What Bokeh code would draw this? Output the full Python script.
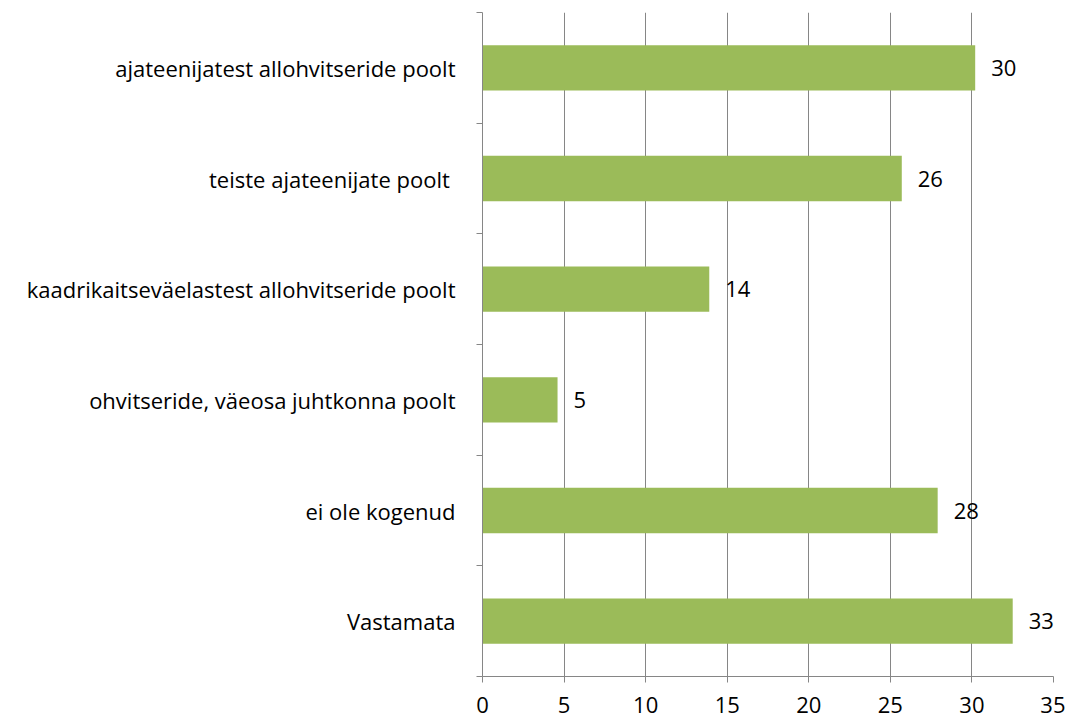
from bokeh.plotting import figure
from bokeh.models import ColumnDataSource, FixedTicker, Range1d
from bokeh.core.properties import value
from bokeh.embed import file_html
from bokeh.resources import INLINE

categories = ["Vastamata", "ei ole kogenud", "ohvitseride, väeosa juhtkonna poolt",
              "kaadrikaitseväelastest allohvitseride poolt", "teiste ajateenijate  poolt",
              "ajateenijatest allohvitseride poolt"]
values = [32.5, 27.9, 4.6, 13.9, 25.7, 30.2]
labels = ["33", "28", "5", "14", "26", "30"]
x_ticks = [0, 5, 10, 15, 20, 25, 30, 35]

FONT = "Open Sans"
GRID = "#868686"

pos = [i + 0.5 for i in range(len(categories))]
src = ColumnDataSource(dict(y=pos, v=values, lab=labels))

p = figure(width=1065, height=722, output_backend="svg", toolbar_location=None,
           x_range=Range1d(0, 35), y_range=Range1d(0, len(categories)),
           min_border_left=482, min_border_right=12, min_border_top=12, min_border_bottom=46)
p.outline_line_color = None
p.background_fill_color = "white"

p.hbar(y="y", right="v", left=0, height=0.41, source=src, fill_color="#9BBB59", line_color=None)
p.text(x="v", y="y", text="lab", source=src, x_offset=16, text_baseline="middle",
       text_align="left", text_font=value(FONT), text_font_size="22px", text_color="black")

p.xgrid.ticker = FixedTicker(ticks=x_ticks)
p.xgrid.grid_line_color = GRID
p.xgrid.grid_line_width = 1
p.ygrid.grid_line_color = None

xa = p.xaxis[0]
xa.ticker = FixedTicker(ticks=x_ticks, minor_ticks=[])
xa.axis_line_color = GRID
xa.major_tick_line_color = GRID
xa.major_tick_out = 6
xa.major_tick_in = 0
xa.minor_tick_line_color = None
xa.major_label_text_font = FONT
xa.major_label_text_font_size = "22px"
xa.major_label_text_color = "black"
xa.major_label_standoff = 14

ya = p.yaxis[0]
ya.ticker = FixedTicker(ticks=pos, minor_ticks=list(range(len(categories) + 1)))
ya.major_label_overrides = {pos[i]: categories[i] for i in range(len(categories))}
ya.axis_line_color = GRID
ya.major_tick_line_color = None
ya.minor_tick_line_color = GRID
ya.minor_tick_out = 6
ya.minor_tick_in = 0
ya.major_label_text_font = FONT
ya.major_label_text_font_size = "22px"
ya.major_label_text_color = "black"
ya.major_label_standoff = 21

open("out.html", "w").write(file_html(p, INLINE))
